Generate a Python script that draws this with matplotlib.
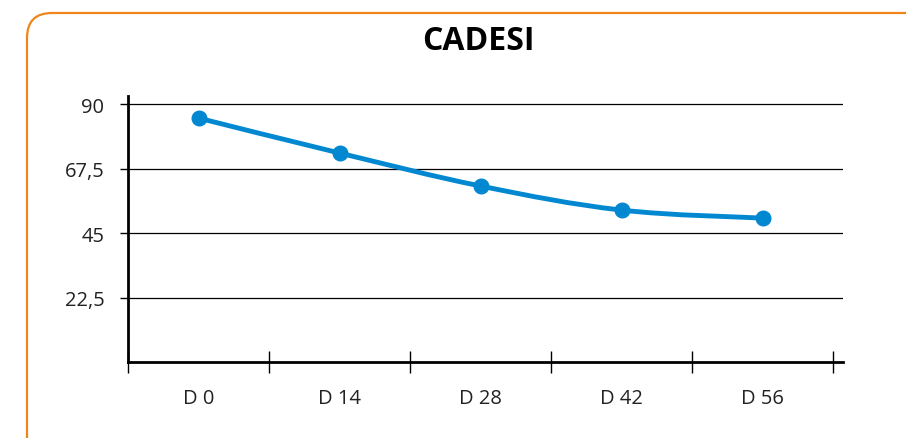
import matplotlib
matplotlib.use("Agg")
import matplotlib.pyplot as plt
from matplotlib.patches import FancyBboxPatch, PathPatch
from matplotlib.path import Path
from matplotlib.ticker import FixedLocator, FuncFormatter

categories = ["D 0", "D 14", "D 28", "D 42", "D 56"]
values = [85.1, 72.9, 61.4, 53.0, 50.2]
y_ticks = [22.5, 45, 67.5, 90]
title = "CADESI"

line_color = "#0288D1"
plt.rcParams["font.family"] = ["Open Sans", "DejaVu Sans"]

fig = plt.figure(figsize=(9.06, 4.39), dpi=100)
fig.patches.append(FancyBboxPatch((0.27, -0.3), 9.3, 4.55,
                                  boxstyle="round,pad=0,rounding_size=0.25",
                                  transform=fig.dpi_scale_trans,
                                  facecolor="none", edgecolor="#F0861A", lw=1.6,
                                  figure=fig, zorder=0))

ax = fig.add_axes([128 / 906, 1 - 363 / 439, (843 - 128) / 906, (363 - 97) / 439])
ax.set_facecolor("none")
x = list(range(len(categories)))

# smooth curve via catmull-rom -> bezier, drawn by matplotlib path
t = 0.18
verts = [(x[0], values[0])]
codes = [Path.MOVETO]
for i in range(len(x) - 1):
    p0 = (x[max(i - 1, 0)], values[max(i - 1, 0)])
    p1 = (x[i], values[i])
    p2 = (x[i + 1], values[i + 1])
    p3 = (x[min(i + 2, len(x) - 1)], values[min(i + 2, len(x) - 1)])
    c1 = (p1[0] + (p2[0] - p0[0]) * t, p1[1] + (p2[1] - p0[1]) * t)
    c2 = (p2[0] - (p3[0] - p1[0]) * t, p2[1] - (p3[1] - p1[1]) * t)
    verts += [c1, c2, p2]
    codes += [Path.CURVE4] * 3
ax.add_patch(PathPatch(Path(verts, codes), facecolor="none", edgecolor=line_color,
                       lw=3.5, zorder=3, capstyle="round"))
ax.plot(x, values, "o", color=line_color, markersize=10.5, zorder=4)

ax.set_xlim(-0.5, 4.57)
ax.set_ylim(0, 92.8)
ax.yaxis.set_major_locator(FixedLocator(y_ticks))
ax.yaxis.set_major_formatter(FuncFormatter(lambda v, p: f"{v:g}".replace(".", ",")))
ax.grid(axis="y", color="black", lw=0.9)
ax.set_axisbelow(True)

ax.xaxis.set_major_locator(FixedLocator([i - 0.5 for i in range(len(categories) + 1)]))
ax.xaxis.set_major_formatter(FuncFormatter(lambda v, p: ""))
ax.xaxis.set_minor_locator(FixedLocator(x))
ax.set_xticklabels(categories, minor=True)
ax.tick_params(axis="x", which="major", direction="inout", length=16, width=1.0, color="black")
ax.tick_params(axis="x", which="minor", length=0, pad=19, labelsize=14.5, labelcolor="#222222")
ax.tick_params(axis="y", direction="out", length=6, width=1.0, pad=11, labelsize=14.5,
               labelcolor="#222222")

for s in ["top", "right"]:
    ax.spines[s].set_visible(False)
for s in ["left", "bottom"]:
    ax.spines[s].set_linewidth(2)

fig.text(478 / 906, 1 - 42 / 439, title, ha="center", va="center",
         fontsize=23, fontweight="bold")

fig.savefig("out.png", dpi=100)
